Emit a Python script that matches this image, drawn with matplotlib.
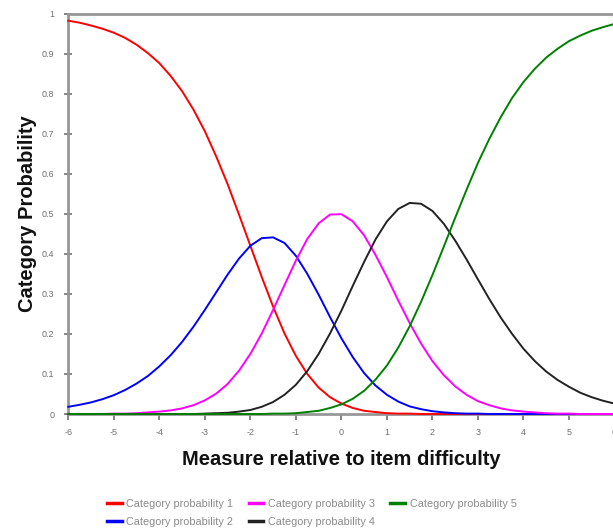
import matplotlib
matplotlib.use("Agg")
import matplotlib.pyplot as plt

plt.rcParams['font.family'] = ['Liberation Sans', 'DejaVu Sans']
plt.rcParams['axes.unicode_minus'] = False

# ---- data ----
measure = [-6.0, -5.75, -5.5, -5.25, -5.0, -4.75, -4.5, -4.25, -4.0, -3.75, -3.5, -3.25,
           -3.0, -2.75, -2.5, -2.25, -2.0, -1.75, -1.5, -1.25, -1.0, -0.75, -0.5, -0.25,
           0.0, 0.25, 0.5, 0.75, 1.0, 1.25, 1.5, 1.75, 2.0, 2.25, 2.5, 2.75,
           3.0, 3.25, 3.5, 3.75, 4.0, 4.25, 4.5, 4.75, 5.0, 5.25, 5.5, 5.75, 6.0]

cat1 = [0.982, 0.977, 0.970, 0.962, 0.952, 0.939, 0.922, 0.901, 0.876, 0.844, 0.806, 0.760,
        0.706, 0.643, 0.574, 0.498, 0.420, 0.342, 0.268, 0.201, 0.145, 0.100, 0.066, 0.042,
        0.026, 0.015, 0.008, 0.005, 0.002, 0.001, 0.001, 0.000, 0.000, 0.000, 0.000, 0.000,
        0.000, 0.000, 0.000, 0.000, 0.000, 0.000, 0.000, 0.000, 0.000, 0.000, 0.000, 0.000, 0.000]
cat2 = [0.018, 0.023, 0.029, 0.037, 0.047, 0.060, 0.076, 0.095, 0.119, 0.147, 0.180, 0.218,
        0.260, 0.304, 0.348, 0.388, 0.420, 0.439, 0.441, 0.427, 0.395, 0.350, 0.298, 0.242,
        0.189, 0.142, 0.102, 0.071, 0.048, 0.031, 0.019, 0.012, 0.007, 0.004, 0.002, 0.001,
        0.001, 0.000, 0.000, 0.000, 0.000, 0.000, 0.000, 0.000, 0.000, 0.000, 0.000, 0.000, 0.000]
cat3 = [0.000, 0.000, 0.000, 0.000, 0.001, 0.001, 0.002, 0.004, 0.006, 0.009, 0.014, 0.022,
        0.034, 0.051, 0.075, 0.108, 0.150, 0.201, 0.260, 0.322, 0.383, 0.437, 0.476, 0.498,
        0.499, 0.481, 0.446, 0.397, 0.342, 0.283, 0.227, 0.176, 0.132, 0.097, 0.069, 0.048,
        0.032, 0.022, 0.014, 0.009, 0.006, 0.004, 0.002, 0.001, 0.001, 0.000, 0.000, 0.000, 0.000]
cat4 = [0.000, 0.000, 0.000, 0.000, 0.000, 0.000, 0.000, 0.000, 0.000, 0.000, 0.000, 0.000,
        0.001, 0.002, 0.003, 0.006, 0.010, 0.018, 0.030, 0.048, 0.073, 0.107, 0.150, 0.201,
        0.258, 0.320, 0.380, 0.436, 0.481, 0.512, 0.527, 0.525, 0.507, 0.475, 0.433, 0.386,
        0.336, 0.287, 0.241, 0.200, 0.163, 0.132, 0.106, 0.085, 0.068, 0.053, 0.042, 0.033, 0.026]
cat5 = [0.000, 0.000, 0.000, 0.000, 0.000, 0.000, 0.000, 0.000, 0.000, 0.000, 0.000, 0.000,
        0.000, 0.000, 0.000, 0.000, 0.000, 0.000, 0.001, 0.001, 0.002, 0.005, 0.008, 0.015,
        0.024, 0.038, 0.058, 0.086, 0.121, 0.166, 0.219, 0.280, 0.347, 0.418, 0.490, 0.560,
        0.627, 0.687, 0.741, 0.789, 0.829, 0.862, 0.890, 0.912, 0.931, 0.945, 0.957, 0.966, 0.974]

series_labels = ["Category probability 1", "Category probability 2", "Category probability 3",
                 "Category probability 4", "Category probability 5"]
series_colors = ["#ff0000", "#0000ff", "#ff00ff", "#222222", "#008000"]

x_ticks = [-6, -5, -4, -3, -2, -1, 0, 1, 2, 3, 4, 5, 6]
x_tick_labels = ["-6", "-5", "-4", "-3", "-2", "-1", "0", "1", "2", "3", "4", "5", "6"]
y_ticks = [0, 0.1, 0.2, 0.3, 0.4, 0.5, 0.6, 0.7, 0.8, 0.9, 1.0]
y_tick_labels = ["0", "0.1", "0.2", "0.3", "0.4", "0.5", "0.6", "0.7", "0.8", "0.9", "1"]

x_title = "Measure relative to item difficulty"
y_title = "Category Probability"

# ---- figure ----
W, H = 613, 529
fig = plt.figure(figsize=(W / 100, H / 100), dpi=100)
left, right, top, bottom = 68.3, 614.5, 13.5, 414.0
ax = fig.add_axes([left / W, 1 - bottom / H, (right - left) / W, (bottom - top) / H])

for ys, c, lab in zip([cat1, cat2, cat3, cat4, cat5], series_colors, series_labels):
    ax.plot(measure, ys, color=c, lw=1.4, label=lab, clip_on=False, zorder=3,
            solid_joinstyle='round')

ax.set_xlim(-6, 6)
ax.set_ylim(0, 1)
ax.set_xticks(x_ticks)
ax.set_xticklabels(x_tick_labels)
ax.set_yticks(y_ticks)
ax.set_yticklabels(y_tick_labels)

spine_col = "#979797"
for s in ["left", "top", "bottom"]:
    ax.spines[s].set_color(spine_col)
    ax.spines[s].set_linewidth(2.0)
ax.spines["right"].set_visible(False)

ax.tick_params(axis='x', direction='out', length=4, width=1.2, color="#707070",
               labelsize=6.5, labelcolor="#707070", pad=6)
ax.tick_params(axis='y', direction='inout', length=6, width=1.2, color="#707070",
               labelsize=6.5, labelcolor="#707070", pad=7)

ax.set_xlabel(x_title, fontsize=14.5, fontweight='bold', color="#111111")
ax.set_ylabel(y_title, fontsize=14.5, fontweight='bold', color="#111111")
ax.xaxis.set_label_coords(0.5, -(450 - bottom) / (bottom - top))
ax.yaxis.set_label_coords(-(left - 37) / (right - left), 0.5)

handles, labels = ax.get_legend_handles_labels()
leg = fig.legend(handles, labels, ncol=3, loc='upper left',
                 bbox_to_anchor=(107 / W, 1 - 499 / H), frameon=False,
                 fontsize=7.8, handlelength=1.35, handletextpad=0.45,
                 columnspacing=1.4, labelspacing=0.75, borderpad=0, borderaxespad=0)
for t in leg.get_texts():
    t.set_color("#8a8a8a")
for l in leg.get_lines():
    l.set_linewidth(2.5)

fig.savefig("out.png", dpi=100)
